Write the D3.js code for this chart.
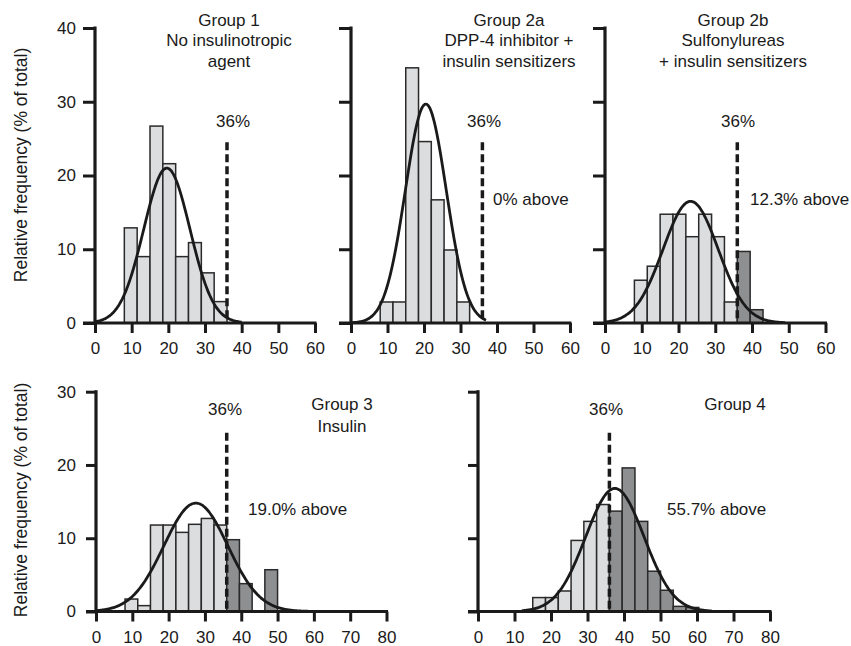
<!DOCTYPE html>
<html>
<head>
<meta charset="utf-8">
<script src="https://cdn.jsdelivr.net/npm/d3@7.9.0/dist/d3.min.js"></script>
<style>
  body { margin: 0; background: #fff; }
  svg { display: block; font-family: "Liberation Sans", Arial, sans-serif; }
  .tick text { font-size: 17px; fill: #1a1a1a; }
  .lbl { font-size: 17px; fill: #1a1a1a; }
</style>
</head>
<body>
<svg id="chart" width="851" height="646"></svg>
<script>
// histogram bins are 3.5 wide, values are % of total per bin
const binWidth = 3.5;
const cutoff = 36;

const g1Centers = [9.75, 13.25, 16.75, 20.25, 23.75, 27.25, 30.75, 34.25];
const g1Freq = [12.9, 9.0, 26.7, 21.6, 9.0, 10.9, 6.8, 2.9];

const g2aCenters = [9.75, 13.25, 16.75, 20.25, 23.75, 27.25, 30.75];
const g2aFreq = [2.85, 2.85, 34.6, 24.6, 16.7, 9.9, 2.85];

const g2bCenters = [9.75, 13.25, 16.75, 20.25, 23.75, 27.25, 30.75, 34.25, 37.75, 41.25];
const g2bFreq = [5.8, 7.7, 14.75, 14.75, 11.7, 14.75, 11.7, 2.85, 9.7, 1.8];

const g3Centers = [9.75, 13.25, 16.75, 20.25, 23.75, 27.25, 30.75, 34.25, 37.75, 41.25, 48.25];
const g3Freq = [1.7, 0.8, 11.8, 11.8, 10.8, 11.9, 12.7, 11.8, 9.8, 3.8, 5.7];

const g4Centers = [16.75, 20.25, 23.75, 27.25, 30.75, 34.25, 37.75, 41.25, 44.75, 48.25, 51.75, 55.25, 58.75];
const g4Freq = [1.9, 1.9, 2.8, 9.7, 12.3, 14.6, 13.7, 19.6, 12.3, 5.5, 2.9, 0.7, 0.55];

// gaussian fit (group 1, 2a, 2b, 3, 4)
const fitAmplitude = [21.0, 29.7, 16.5, 14.8, 16.8];
const fitMean = [19.6, 20.5, 23.3, 27.5, 37.5];
const fitSD = [6.3, 5.6, 7.5, 8.8, 8.0];
const fitFrom = [0, 0, 0, 0, 12];
const fitTo = [40, 37, 49, 59, 64];

const titles = [
  ['Group 1', 'No insulinotropic', 'agent'],
  ['Group 2a', 'DPP-4 inhibitor +', 'insulin sensitizers'],
  ['Group 2b', 'Sulfonylureas', '+ insulin sensitizers'],
  ['Group 3', 'Insulin'],
  ['Group 4']
];
const aboveLabels = [null, '0% above', '12.3% above', '19.0% above', '55.7% above'];

const xTicksTop = [0, 10, 20, 30, 40, 50, 60];
const xTicksBottom = [0, 10, 20, 30, 40, 50, 60, 70, 80];
const yTicksTop = [0, 10, 20, 30, 40];
const yTicksBottom = [0, 10, 20, 30];

// layout of the five panels
const panels = [
  { centers: g1Centers, freq: g1Freq, x0: 95, x1: 315, xmax: 60, row: 0, yLabels: true,
    titleX: 229, cutLblX: 233, aboveX: null },
  { centers: g2aCenters, freq: g2aFreq, x0: 351, x1: 570, xmax: 60, row: 0, yLabels: false,
    titleX: 509, cutLblX: 484, aboveX: 493 },
  { centers: g2bCenters, freq: g2bFreq, x0: 605, x1: 825.5, xmax: 60, row: 0, yLabels: false,
    titleX: 733, cutLblX: 738, aboveX: 750 },
  { centers: g3Centers, freq: g3Freq, x0: 96, x1: 386.5, xmax: 80, row: 1, yLabels: true,
    titleX: 342, cutLblX: 225, aboveX: 248 },
  { centers: g4Centers, freq: g4Freq, x0: 478, x1: 770, xmax: 80, row: 1, yLabels: false,
    titleX: 735, cutLblX: 606, aboveX: 667 }
];

const rows = [
  { y0: 323, y1: 28, ymax: 40, yTicks: yTicksTop, xTicks: xTicksTop, yTickLen: 12,
    titleBase: 26, lineGap: 20.3, cutLblBase: 127, dashTopVal: 24.5, aboveBase: 205, yTitleY: 165 },
  { y0: 611.5, y1: 391.7, ymax: 30, yTicks: yTicksBottom, xTicks: xTicksBottom, yTickLen: 10,
    titleBase: 410, lineGap: 21.7, cutLblBase: 415, dashTopVal: 24.4, aboveBase: 515, yTitleY: 500 }
];

const LIGHT = '#dcdddf';
const DARK = '#8e8f91';
const INK = '#1a1a1a';

const svg = d3.select('#chart');

panels.forEach((p, i) => {
  const r = rows[p.row];
  const x = d3.scaleLinear().domain([0, p.xmax]).range([p.x0, p.x1]);
  const y = d3.scaleLinear().domain([0, r.ymax]).range([r.y0, r.y1]);
  const g = svg.append('g');

  const bins = p.centers.map((c, k) => ({ c, v: p.freq[k] }));

  // bars
  g.selectAll('rect.bar')
    .data(bins)
    .join('rect')
    .attr('class', 'bar')
    .attr('x', (d) => x(d.c - binWidth / 2))
    .attr('width', (d) => x(d.c + binWidth / 2) - x(d.c - binWidth / 2))
    .attr('y', (d) => y(d.v))
    .attr('height', (d) => y(0) - y(d.v))
    .attr('fill', (d) => (d.c - binWidth / 2 >= cutoff - 0.01 ? DARK : LIGHT))
    .attr('stroke', '#2a2a2a')
    .attr('stroke-width', 1.5);

  // fitted gaussian
  const pts = d3.range(fitFrom[i], fitTo[i] + 0.001, 0.25).map((t) => [
    t, fitAmplitude[i] * Math.exp(-0.5 * Math.pow((t - fitMean[i]) / fitSD[i], 2))
  ]);
  g.append('path')
    .datum(pts)
    .attr('fill', 'none')
    .attr('stroke', INK)
    .attr('stroke-width', 2.8)
    .attr('d', d3.line().x((d) => x(d[0])).y((d) => y(d[1])).curve(d3.curveBasis));

  // 36% cutoff line
  g.append('line')
    .attr('x1', x(cutoff)).attr('x2', x(cutoff))
    .attr('y1', y(r.dashTopVal)).attr('y2', y(0))
    .attr('stroke', INK)
    .attr('stroke-width', 3.5)
    .attr('stroke-dasharray', '8,4');

  // axes
  const xAxis = d3.axisBottom(x).tickValues(r.xTicks).tickSize(10).tickPadding(9).tickFormat(d3.format('d'));
  const gx = g.append('g').attr('transform', `translate(0,${r.y0})`).call(xAxis);
  gx.select('.domain').remove();
  gx.selectAll('.tick line').attr('stroke', INK).attr('stroke-width', 3);

  const yAxis = d3.axisLeft(y).tickValues(r.yTicks).tickSize(r.yTickLen)
    .tickPadding(p.row === 0 ? 7 : 10)
    .tickFormat(p.yLabels ? d3.format('d') : () => '');
  const gy = g.append('g').attr('transform', `translate(${p.x0},0)`).call(yAxis);
  gy.select('.domain').remove();
  gy.selectAll('.tick line').attr('stroke', INK).attr('stroke-width', 3);

  g.append('line')
    .attr('x1', p.x0 - r.yTickLen).attr('x2', p.x1 + 1.5)
    .attr('y1', r.y0).attr('y2', r.y0)
    .attr('stroke', INK).attr('stroke-width', 3.2);
  g.append('line')
    .attr('x1', p.x0).attr('x2', p.x0)
    .attr('y1', r.y0 + 1.5).attr('y2', r.y1 - 1.5)
    .attr('stroke', INK).attr('stroke-width', 3.2);

  // texts
  titles[i].forEach((t, k) => {
    g.append('text').attr('class', 'lbl')
      .attr('x', p.titleX).attr('y', r.titleBase + k * r.lineGap)
      .attr('text-anchor', 'middle').text(t);
  });
  g.append('text').attr('class', 'lbl')
    .attr('x', p.cutLblX).attr('y', r.cutLblBase)
    .attr('text-anchor', 'middle').text(cutoff + '%');
  if (aboveLabels[i]) {
    g.append('text').attr('class', 'lbl')
      .attr('x', p.aboveX).attr('y', r.aboveBase)
      .text(aboveLabels[i]);
  }

  if (p.yLabels) {
    svg.append('text').attr('class', 'lbl')
      .attr('transform', `translate(27,${r.yTitleY}) rotate(-90)`)
      .attr('text-anchor', 'middle')
      .style('font-size', '17.5px')
      .text('Relative frequency (% of total)');
  }
});
</script>
</body>
</html>
